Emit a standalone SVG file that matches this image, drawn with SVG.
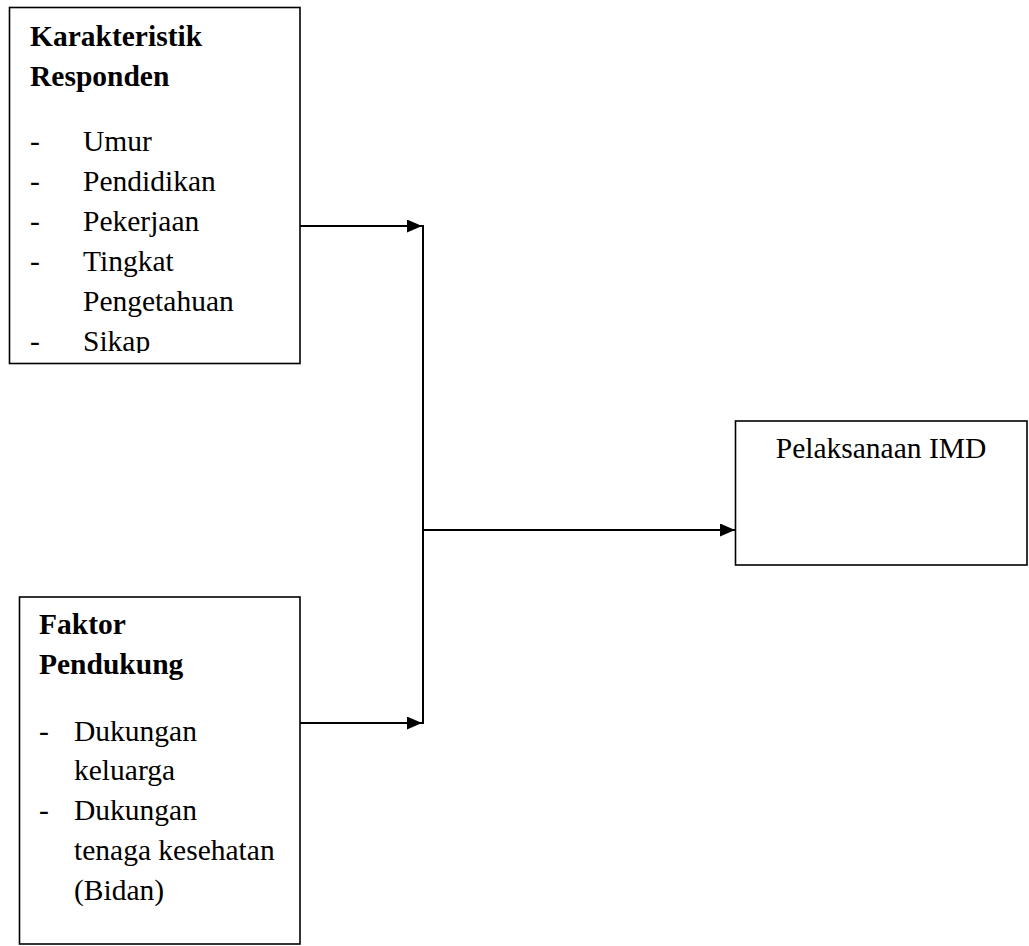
<svg xmlns="http://www.w3.org/2000/svg" width="1029" height="946" viewBox="0 0 1029 946">
<style>
.box{fill:#fff;stroke:#000;stroke-width:1.6}
.t{font-family:"Liberation Serif","Times New Roman",serif;font-size:29.5px;fill:#000}
.b{font-weight:bold}
.c{fill:none;stroke:#000;stroke-width:2}
</style>
<defs>
<marker id="ah" markerWidth="15" markerHeight="13" refX="15" refY="6.5" orient="auto" markerUnits="userSpaceOnUse">
<path d="M0,0 L15,6.5 L0,13 Z" fill="#000"/>
</marker>
<clipPath id="clipK"><rect x="9" y="7" width="291" height="346"/></clipPath>
</defs>
<rect width="1029" height="946" fill="#fff"/>
<g id="connectors">
<line class="c" x1="300" y1="226" x2="422" y2="226" marker-end="url(#ah)"/>
<line class="c" x1="300" y1="723" x2="422" y2="723" marker-end="url(#ah)"/>
<line class="c" x1="423" y1="225" x2="423" y2="724"/>
<line class="c" x1="423" y1="530" x2="735" y2="530" marker-end="url(#ah)"/>
</g>
<g id="karakteristik">
<rect class="box" x="9.5" y="7.5" width="290.5" height="356"/>
<g clip-path="url(#clipK)">
<text class="t b" x="30" y="46">Karakteristik</text>
<text class="t b" x="30" y="86">Responden</text>
<text class="t" x="30" y="151">-</text><text class="t" x="83" y="151">Umur</text>
<text class="t" x="30" y="191">-</text><text class="t" x="83" y="191">Pendidikan</text>
<text class="t" x="30" y="231">-</text><text class="t" x="83" y="231">Pekerjaan</text>
<text class="t" x="30" y="271">-</text><text class="t" x="83" y="271">Tingkat</text>
<text class="t" x="83" y="311">Pengetahuan</text>
<text class="t" x="30" y="351">-</text><text class="t" x="83" y="351">Sikap</text>
</g>
</g>
<g id="faktor">
<rect class="box" x="19.5" y="597" width="280.5" height="347"/>
<text class="t b" x="39" y="634">Faktor</text>
<text class="t b" x="39" y="674">Pendukung</text>
<text class="t" x="39" y="741">-</text><text class="t" x="74" y="741">Dukungan</text>
<text class="t" x="74" y="780">keluarga</text>
<text class="t" x="39" y="820">-</text><text class="t" x="74" y="820">Dukungan</text>
<text class="t" x="74" y="860">tenaga kesehatan</text>
<text class="t" x="74" y="900">(Bidan)</text>
</g>
<g id="pelaksanaan">
<rect class="box" x="735.5" y="421" width="291.5" height="144"/>
<text class="t" x="881" y="458" text-anchor="middle">Pelaksanaan IMD</text>
</g>
</svg>
